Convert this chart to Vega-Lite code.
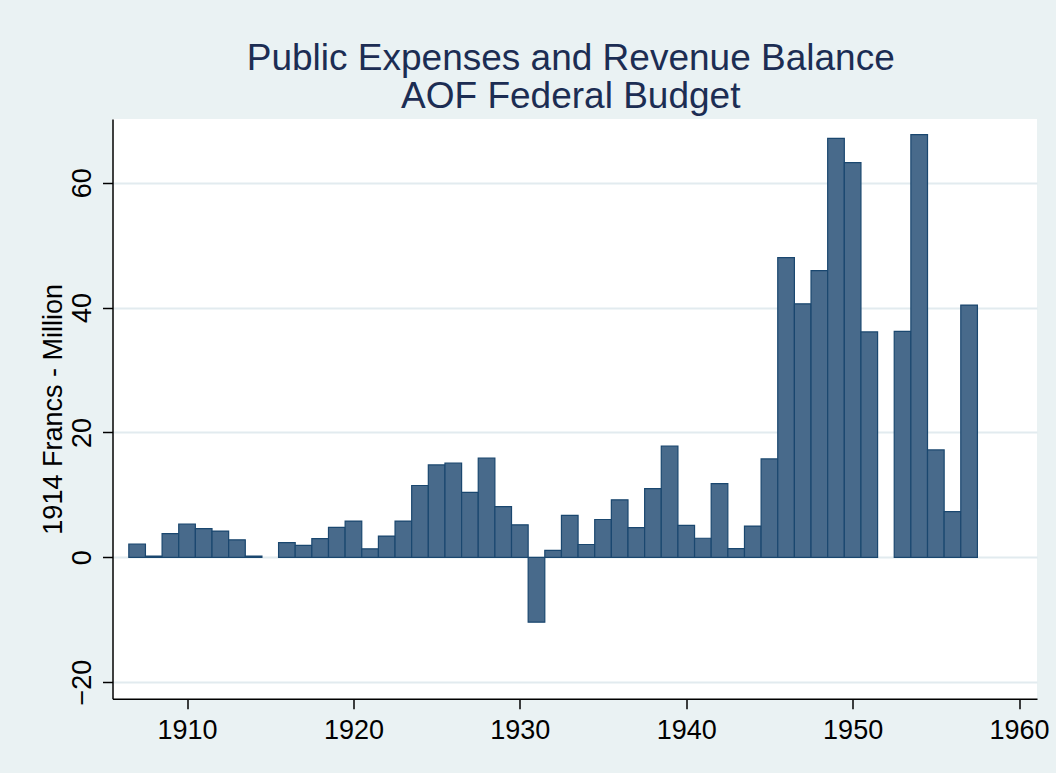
{
  "$schema": "https://vega.github.io/schema/vega-lite/v6.json",
  "width": 924.5,
  "height": 579.7,
  "autosize": "none",
  "padding": {"left": 112.5, "top": 119, "right": 19, "bottom": 74.3},
  "background": "#eaf2f3",
  "view": {"fill": "white", "stroke": null},
  "title": {
    "text": ["Public Expenses and Revenue Balance", "AOF Federal Budget"],
    "font": "Liberation Sans",
    "fontSize": 37,
    "fontWeight": "normal",
    "color": "#1c2d53",
    "lineHeight": 38,
    "anchor": "middle",
    "frame": "group",
    "dx": -4,
    "offset": 3
  },
  "data": {
    "values": [
      {"year": 1907, "value": 2.1},
      {"year": 1908, "value": 0.2},
      {"year": 1909, "value": 3.8},
      {"year": 1910, "value": 5.3},
      {"year": 1911, "value": 4.6},
      {"year": 1912, "value": 4.2},
      {"year": 1913, "value": 2.8},
      {"year": 1914, "value": 0.2},
      {"year": 1916, "value": 2.35},
      {"year": 1917, "value": 1.9},
      {"year": 1918, "value": 3.0},
      {"year": 1919, "value": 4.8},
      {"year": 1920, "value": 5.8},
      {"year": 1921, "value": 1.35},
      {"year": 1922, "value": 3.4},
      {"year": 1923, "value": 5.8},
      {"year": 1924, "value": 11.5},
      {"year": 1925, "value": 14.8},
      {"year": 1926, "value": 15.1},
      {"year": 1927, "value": 10.4},
      {"year": 1928, "value": 15.9},
      {"year": 1929, "value": 8.1},
      {"year": 1930, "value": 5.2},
      {"year": 1931, "value": -10.4},
      {"year": 1932, "value": 1.1},
      {"year": 1933, "value": 6.7},
      {"year": 1934, "value": 2.05},
      {"year": 1935, "value": 6.05},
      {"year": 1936, "value": 9.2},
      {"year": 1937, "value": 4.75},
      {"year": 1938, "value": 11.0},
      {"year": 1939, "value": 17.8},
      {"year": 1940, "value": 5.1},
      {"year": 1941, "value": 3.05},
      {"year": 1942, "value": 11.8},
      {"year": 1943, "value": 1.4},
      {"year": 1944, "value": 5.0},
      {"year": 1945, "value": 15.75},
      {"year": 1946, "value": 48.0},
      {"year": 1947, "value": 40.6},
      {"year": 1948, "value": 45.9},
      {"year": 1949, "value": 67.1},
      {"year": 1950, "value": 63.2},
      {"year": 1951, "value": 36.1},
      {"year": 1953, "value": 36.2},
      {"year": 1954, "value": 67.7},
      {"year": 1955, "value": 17.2},
      {"year": 1956, "value": 7.3},
      {"year": 1957, "value": 40.4}
    ]
  },
  "mark": {"type": "bar", "width": 16.64, "fill": "#486a8b", "stroke": "#1a476f", "strokeWidth": 1.2, "clip": true},
  "encoding": {
    "x": {
      "field": "year",
      "type": "quantitative",
      "scale": {"domain": [1905.52, 1961.08], "nice": false, "zero": false, "padding": 0},
      "axis": {
        "title": null,
        "values": [1910, 1920, 1930, 1940, 1950, 1960],
        "format": "d",
        "grid": false,
        "labelFont": "Liberation Sans",
        "labelFontSize": 27,
        "labelColor": "black",
        "labelPadding": 9,
        "tickSize": 10,
        "tickColor": "black",
        "tickWidth": 1.5,
        "domainColor": "black",
        "domainWidth": 1.5,
        "labelFlush": false,
        "labelOverlap": false
      }
    },
    "y": {
      "field": "value",
      "type": "quantitative",
      "scale": {"domain": [-22.65, 70.2], "nice": false, "zero": true},
      "axis": {
        "title": "1914 Francs - Million",
        "titleFont": "Liberation Sans",
        "titleFontSize": 27,
        "titleFontWeight": "normal",
        "titleColor": "black",
        "titleAngle": -90,
        "titleAlign": "center",
        "titleBaseline": "alphabetic",
        "titleX": -51,
        "titleY": 289.85,
        "values": [-20, 0, 20, 40, 60],
        "labelFont": "Liberation Sans",
        "labelFontSize": 27,
        "labelColor": "black",
        "labelAngle": -90,
        "labelAlign": "center",
        "labelBaseline": "alphabetic",
        "labelPadding": 12,
        "tickSize": 10,
        "tickColor": "black",
        "tickWidth": 1.5,
        "domainColor": "black",
        "domainWidth": 1.5,
        "grid": true,
        "gridColor": "#e2ebef",
        "gridWidth": 2,
        "labelFlush": false,
        "labelOverlap": false
      }
    }
  }
}
